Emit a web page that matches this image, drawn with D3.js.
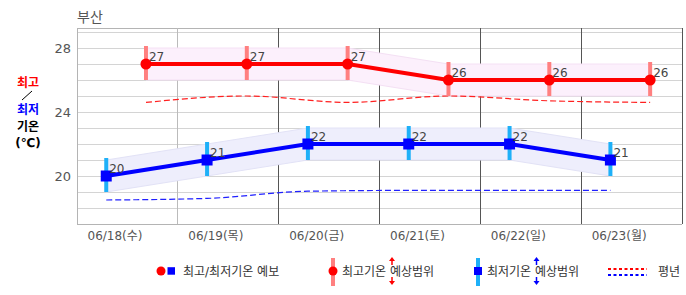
<!DOCTYPE html>
<html>
<head>
<meta charset="utf-8">
<script src="https://cdn.jsdelivr.net/npm/d3@7"></script>
<style>
	body { margin: 0; background: #fff; }
	text { font-family: "DejaVu Sans", "Noto Sans CJK KR", sans-serif; }
</style>
</head>
<body>
<svg class="mainsvg" width="686" height="295"></svg>
<script>
// 부산 주간 기온 예보
var dates = ['06/18(수)', '06/19(목)', '06/20(금)', '06/21(토)', '06/22(일)', '06/23(월)'];
var maxTemp = [27, 27, 27, 26, 26, 26];
var maxLow = [26, 26, 26, 25, 25, 25];
var maxHigh = [28, 28, 28, 27, 27, 27];
var minTemp = [20, 21, 22, 22, 22, 21];
var minLow = [19, 20, 21, 21, 21, 20];
var minHigh = [21, 22, 23, 23, 23, 22];
var normalMax = [24.6, 25.0, 24.6, 25.0, 24.7, 24.6];
var normalMin = [18.5, 18.6, 19.05, 19.1, 19.1, 19.1];
var yTicks = [20, 24, 28];
var yGrid = d3.range(17, 30);

var svg = d3.select('.mainsvg');
var pLeft = 77, pRight = 682, pTop = 28, pBottom = 224;

var x = d3.scaleBand().domain(dates).range([pLeft, pRight]).padding(0);
var y = d3.scaleLinear().domain([17, 29.25]).range([pBottom, pTop]);
// 최고기온은 오후, 최저기온은 아침 위치
var pxMax = function (i) { return x(dates[i]) + x.bandwidth() * 0.684; };
var pxMin = function (i) { return x(dates[i]) + x.bandwidth() * 0.29; };

var idx = d3.range(dates.length);

// grid
svg.append('g').selectAll('line')
	.data(yGrid)
	.join('line')
	.attr('x1', pLeft).attr('x2', pRight)
	.attr('y1', d => y(d)).attr('y2', d => y(d))
	.attr('stroke', '#d4d4d4')
	.attr('stroke-width', 1)
	.attr('shape-rendering', 'crispEdges');

svg.append('line')
	.attr('x1', pLeft).attr('x2', pRight).attr('y1', pTop).attr('y2', pTop)
	.attr('stroke', '#b4b4b4').attr('shape-rendering', 'crispEdges');

svg.append('g').selectAll('line')
	.data(dates.slice(1).concat(['end']))
	.join('line')
	.attr('x1', (d, i) => i == dates.length - 1 ? pRight : x(d))
	.attr('x2', (d, i) => i == dates.length - 1 ? pRight : x(d))
	.attr('y1', pTop).attr('y2', pBottom)
	.attr('stroke', (d, i) => i == 0 ? '#bbbbbb' : '#555555')
	.attr('shape-rendering', 'crispEdges');

svg.append('line')
	.attr('x1', pLeft).attr('x2', pLeft).attr('y1', pTop).attr('y2', pBottom)
	.attr('stroke', '#b4b4b4').attr('shape-rendering', 'crispEdges');
svg.append('line')
	.attr('x1', pLeft).attr('x2', pRight).attr('y1', pBottom).attr('y2', pBottom)
	.attr('stroke', '#b4b4b4').attr('shape-rendering', 'crispEdges');

// y axis labels
svg.append('g').selectAll('text')
	.data(yTicks)
	.join('text')
	.attr('x', 71)
	.attr('y', d => y(d) + 5)
	.attr('fill', '#555')
	.attr('font-size', '13px')
	.style('text-anchor', 'end')
	.text(d => d);

// x axis labels
svg.append('g').selectAll('text')
	.data(dates)
	.join('text')
	.attr('x', d => x(d) + x.bandwidth() * 0.377)
	.attr('y', 240)
	.attr('fill', '#555')
	.attr('font-size', '12px')
	.style('text-anchor', 'middle')
	.text(d => d);

// title
svg.append('text')
	.attr('x', 77).attr('y', 22)
	.attr('fill', '#555')
	.attr('font-size', '14px')
	.text('부산');

// left axis title
var ttl = [['최고', 'red', 87], ['최저', 'blue', 114], ['기온', 'black', 131], ['(℃)', 'black', 147]];
svg.append('g').selectAll('text')
	.data(ttl)
	.join('text')
	.attr('x', 28)
	.attr('y', d => d[2])
	.attr('fill', d => d[1])
	.attr('font-size', '12px')
	.attr('font-weight', 'bold')
	.style('text-anchor', 'middle')
	.text(d => d[0]);
svg.append('line')
	.attr('x1', 22).attr('y1', 100).attr('x2', 32).attr('y2', 91)
	.attr('stroke', '#000').attr('stroke-width', 1);

// bands
var band = function (px, lo, hi) {
	return d3.area()
		.x(i => px(i))
		.y0(i => y(lo[i]))
		.y1(i => y(hi[i]));
};
svg.append('path')
	.datum(idx)
	.attr('d', band(pxMax, maxLow, maxHigh))
	.attr('fill', '#fcf0fc')
	.attr('stroke', '#f4e0f4');
svg.append('path')
	.datum(idx)
	.attr('d', band(pxMin, minLow, minHigh))
	.attr('fill', '#eeeefc')
	.attr('stroke', '#e2e2f6');

// normals
var normLine = function (px, arr) {
	return d3.line().x(i => px(i)).y(i => y(arr[i])).curve(d3.curveMonotoneX);
};
svg.append('path')
	.datum(idx)
	.attr('d', normLine(pxMax, normalMax))
	.attr('fill', 'none')
	.attr('stroke', '#ff2020')
	.attr('stroke-width', 1.2)
	.attr('stroke-dasharray', '6,3');
svg.append('path')
	.datum(idx)
	.attr('d', normLine(pxMin, normalMin))
	.attr('fill', 'none')
	.attr('stroke', '#2020ff')
	.attr('stroke-width', 1.2)
	.attr('stroke-dasharray', '6,3');

// range bars
svg.append('g').selectAll('line')
	.data(idx)
	.join('line')
	.attr('x1', i => pxMax(i)).attr('x2', i => pxMax(i))
	.attr('y1', i => y(maxHigh[i]) - 2).attr('y2', i => y(maxLow[i]))
	.attr('stroke', '#ff8080')
	.attr('stroke-width', 4);
svg.append('g').selectAll('line')
	.data(idx)
	.join('line')
	.attr('x1', i => pxMin(i)).attr('x2', i => pxMin(i))
	.attr('y1', i => y(minHigh[i]) - 2).attr('y2', i => y(minLow[i]))
	.attr('stroke', '#1eb0f8')
	.attr('stroke-width', 4);

// lines
svg.append('path')
	.datum(idx)
	.attr('d', d3.line().x(i => pxMax(i)).y(i => y(maxTemp[i])))
	.attr('fill', 'none')
	.attr('stroke', '#ff0000')
	.attr('stroke-width', 4);
svg.append('path')
	.datum(idx)
	.attr('d', d3.line().x(i => pxMin(i)).y(i => y(minTemp[i])))
	.attr('fill', 'none')
	.attr('stroke', '#0000ff')
	.attr('stroke-width', 4);

// markers
svg.append('g').selectAll('circle')
	.data(idx)
	.join('circle')
	.attr('cx', i => pxMax(i))
	.attr('cy', i => y(maxTemp[i]))
	.attr('r', 5.5)
	.attr('fill', '#ff0000');
svg.append('g').selectAll('rect')
	.data(idx)
	.join('rect')
	.attr('x', i => pxMin(i) - 5.5)
	.attr('y', i => y(minTemp[i]) - 5.5)
	.attr('width', 11).attr('height', 11)
	.attr('fill', '#0000ff');

// value labels
svg.append('g').selectAll('text')
	.data(idx)
	.join('text')
	.attr('x', i => pxMax(i) + 3)
	.attr('y', i => y(maxTemp[i]) - 3)
	.attr('fill', '#444')
	.attr('font-size', '12px')
	.text(i => maxTemp[i]);
svg.append('g').selectAll('text')
	.data(idx)
	.join('text')
	.attr('x', i => pxMin(i) + 3)
	.attr('y', i => y(minTemp[i]) - 3)
	.attr('fill', '#444')
	.attr('font-size', '12px')
	.text(i => minTemp[i]);

// legend
var lg = svg.append('g');
var ly = 271;
var ltext = function (tx, t) {
	lg.append('text')
		.attr('x', tx).attr('y', ly + 4.5)
		.attr('fill', '#333')
		.attr('font-size', '12px')
		.text(t);
};
var arrow = function (ax, col) {
	lg.append('line').attr('x1', ax).attr('x2', ax).attr('y1', ly - 6).attr('y2', ly - 12)
		.attr('stroke', col).attr('stroke-width', 1.5);
	lg.append('path').attr('d', 'M' + (ax - 3) + ',' + (ly - 10) + 'L' + ax + ',' + (ly - 14) + 'L' + (ax + 3) + ',' + (ly - 10) + 'Z')
		.attr('fill', col);
	lg.append('line').attr('x1', ax).attr('x2', ax).attr('y1', ly + 6).attr('y2', ly + 12)
		.attr('stroke', col).attr('stroke-width', 1.5);
	lg.append('path').attr('d', 'M' + (ax - 3) + ',' + (ly + 10) + 'L' + ax + ',' + (ly + 14) + 'L' + (ax + 3) + ',' + (ly + 10) + 'Z')
		.attr('fill', col);
};

lg.append('circle').attr('cx', 161).attr('cy', ly).attr('r', 4.5).attr('fill', '#ff0000');
lg.append('rect').attr('x', 167.5).attr('y', ly - 3.8).attr('width', 7.5).attr('height', 7.5).attr('fill', '#0000ff');
ltext(183, '최고/최저기온 예보');

lg.append('rect').attr('x', 331).attr('y', ly - 13).attr('width', 4).attr('height', 28).attr('fill', '#ff8080');
lg.append('circle').attr('cx', 333).attr('cy', ly).attr('r', 4.5).attr('fill', '#ff0000');
ltext(342, '최고기온 예상범위');
arrow(392, '#ff0000');

lg.append('rect').attr('x', 476).attr('y', ly - 13).attr('width', 4).attr('height', 28).attr('fill', '#1eb0f8');
lg.append('rect').attr('x', 474).attr('y', ly - 4).attr('width', 8).attr('height', 8).attr('fill', '#0000ff');
ltext(487, '최저기온 예상범위');
arrow(536.5, '#0000ff');

lg.append('line').attr('x1', 608).attr('x2', 647).attr('y1', ly - 2).attr('y2', ly - 2)
	.attr('stroke', '#ff0000').attr('stroke-width', 2).attr('stroke-dasharray', '3,2.5');
lg.append('line').attr('x1', 608).attr('x2', 647).attr('y1', ly + 4).attr('y2', ly + 4)
	.attr('stroke', '#0000ff').attr('stroke-width', 2).attr('stroke-dasharray', '3,2.5');
ltext(658, '평년');
</script>
</body>
</html>
